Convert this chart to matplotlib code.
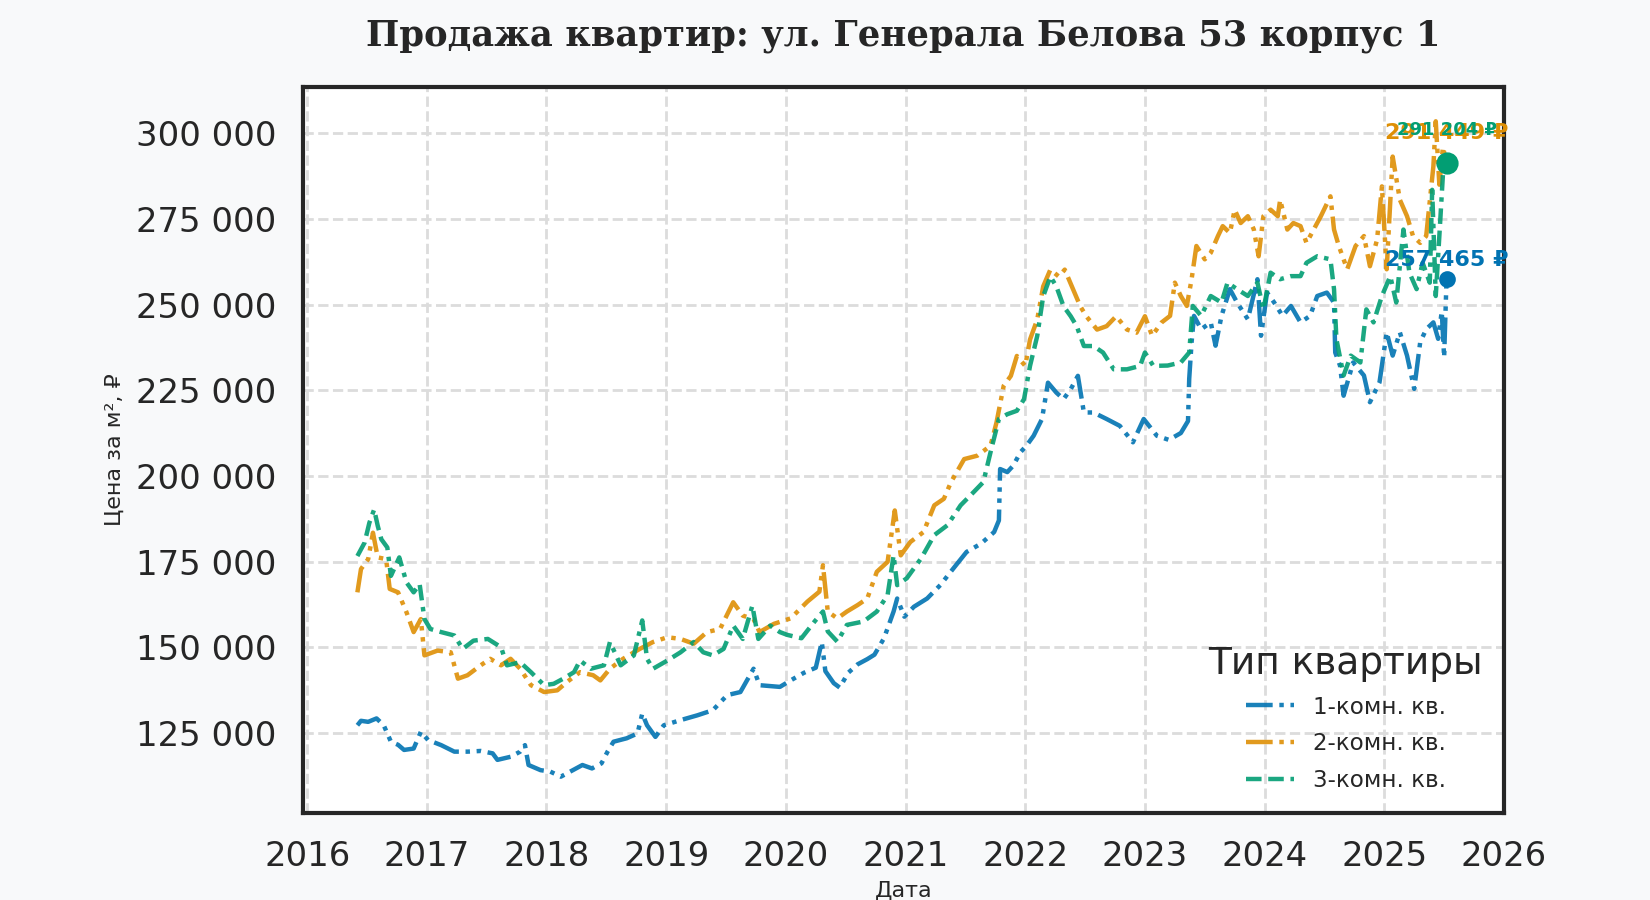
import matplotlib
matplotlib.use("Agg")
import matplotlib.pyplot as plt
from matplotlib.ticker import FuncFormatter

# --- data (decimal year, price per m2 in RUB) ---
one_room_t = [
    2016.42, 2016.45, 2016.51, 2016.58, 2016.64, 2016.70, 2016.76, 2016.81, 2016.89, 2016.95,
    2017.01, 2017.12, 2017.23, 2017.34, 2017.45, 2017.55, 2017.59, 2017.70, 2017.78, 2017.82,
    2017.85, 2017.95, 2018.03, 2018.12, 2018.20, 2018.30, 2018.38, 2018.46, 2018.51, 2018.56,
    2018.67, 2018.76, 2018.80, 2018.84, 2018.91, 2018.98, 2019.12, 2019.26, 2019.39, 2019.51,
    2019.62, 2019.73, 2019.78, 2019.95, 2020.05, 2020.15, 2020.25, 2020.30, 2020.33, 2020.40,
    2020.45, 2020.52, 2020.60, 2020.68, 2020.74, 2020.82, 2020.90, 2020.93, 2020.99, 2021.07,
    2021.18, 2021.29, 2021.40, 2021.51, 2021.63, 2021.74, 2021.78, 2021.79, 2021.85, 2021.90,
    2021.96, 2022.01, 2022.07, 2022.14, 2022.19, 2022.26, 2022.32, 2022.38, 2022.44, 2022.49,
    2022.57, 2022.68, 2022.79, 2022.90, 2022.99, 2023.10, 2023.20, 2023.30, 2023.36, 2023.37,
    2023.39, 2023.41, 2023.47, 2023.55, 2023.59, 2023.64, 2023.71, 2023.77, 2023.86, 2023.94,
    2023.97, 2024.02, 2024.08, 2024.15, 2024.22, 2024.30, 2024.38, 2024.44, 2024.52, 2024.58,
    2024.59, 2024.63, 2024.66, 2024.74, 2024.83, 2024.88, 2024.96, 2025.02, 2025.07, 2025.13,
    2025.19, 2025.25, 2025.30, 2025.35, 2025.41, 2025.45, 2025.48, 2025.50, 2025.52,
]
one_room_v = [
    127200, 128500, 128200, 129200, 127200, 122400, 121500, 120000, 120400, 125300,
    122900, 121400, 119500, 119500, 119700, 119000, 117100, 118000, 119500, 121400,
    115600, 114100, 113700, 112200, 113700, 115600, 114600, 116100, 119500, 122400,
    123400, 124800, 130600, 127200, 123800, 127200, 128700, 130100, 131600, 136000,
    136900, 143700, 138900, 138400, 140500, 142500, 144000, 151500, 143000, 139500,
    138200, 142500, 145000, 146500, 147800, 152600, 160400, 164200, 158900, 161800,
    164200, 168100, 173000, 177800, 180200, 183600, 187000, 202000, 201100, 203000,
    206900, 208800, 211700, 216600, 227200, 224300, 222400, 225300, 229200, 218500,
    218500, 216600, 214600, 209800, 216600, 211700, 210500, 212500, 216000, 228300,
    239000, 246700, 242800, 244800, 238000, 246700, 254500, 250600, 245700, 257400,
    240900, 253500, 250600, 246700, 249600, 244800, 246700, 252500, 253500, 250600,
    236000, 232200, 223400, 233100, 229300, 221500, 227300, 241900, 235100, 241900,
    235100, 225400, 239000, 242800, 244800, 240000, 248000, 234600, 257465,
]

two_room_t = [
    2016.42, 2016.45, 2016.51, 2016.55, 2016.59, 2016.66, 2016.69, 2016.76, 2016.83, 2016.89,
    2016.95, 2016.98, 2017.09, 2017.20, 2017.26, 2017.34, 2017.45, 2017.53, 2017.62, 2017.70,
    2017.78, 2017.87, 2017.98, 2018.09, 2018.17, 2018.28, 2018.39, 2018.45, 2018.53, 2018.64,
    2018.73, 2018.78, 2018.89, 2019.01, 2019.12, 2019.23, 2019.34, 2019.45, 2019.56, 2019.64,
    2019.73, 2019.78, 2019.90, 2020.04, 2020.18, 2020.28, 2020.31, 2020.35, 2020.43, 2020.51,
    2020.60, 2020.68, 2020.76, 2020.85, 2020.91, 2020.96, 2021.04, 2021.15, 2021.24, 2021.32,
    2021.38, 2021.49, 2021.60, 2021.71, 2021.76, 2021.82, 2021.88, 2021.93, 2022.00, 2022.04,
    2022.10, 2022.15, 2022.21, 2022.28, 2022.33, 2022.40, 2022.46, 2022.51, 2022.60, 2022.68,
    2022.76, 2022.85, 2022.93, 2023.00, 2023.06, 2023.14, 2023.21, 2023.25, 2023.30, 2023.35,
    2023.39, 2023.43, 2023.50, 2023.55, 2023.61, 2023.65, 2023.71, 2023.75, 2023.80, 2023.86,
    2023.91, 2023.95, 2023.99, 2024.05, 2024.11, 2024.13, 2024.19, 2024.24, 2024.30, 2024.35,
    2024.41, 2024.47, 2024.55, 2024.58, 2024.62, 2024.69, 2024.76, 2024.83, 2024.88, 2024.94,
    2024.98, 2025.02, 2025.07, 2025.13, 2025.19, 2025.24, 2025.30, 2025.35, 2025.41, 2025.43,
    2025.46, 2025.49, 2025.52,
]
two_room_v = [
    166000, 172800, 175700, 183400, 176200, 175700, 167000, 166000, 160200, 154400,
    158200, 147600, 149000, 148500, 140800, 141800, 144700, 146600, 144700, 146600,
    143700, 138900, 136900, 137400, 139800, 142700, 141800, 140300, 143700, 146600,
    148500, 149500, 151500, 152900, 152400, 151000, 154400, 155300, 163100, 159200,
    158200, 154400, 156800, 158400, 163300, 166200, 173900, 160400, 158400, 160400,
    162300, 164200, 172000, 174900, 189900, 176800, 180700, 183600, 191400, 193300,
    198200, 204900, 205900, 208800, 215600, 226300, 229200, 235000, 232100, 239800,
    245600, 255300, 260200, 258200, 260200, 254400, 249500, 246600, 242700, 243700,
    246600, 242700, 241800, 246600, 240900, 244800, 246700, 256400, 252500, 249600,
    257400, 267100, 263200, 265100, 270000, 272900, 270900, 277700, 273800, 275800,
    271900, 264100, 275800, 277700, 275800, 280600, 271900, 273800, 272900, 268000,
    271900, 275800, 281600, 271900, 267100, 260300, 267100, 270000, 261200, 269000,
    284500, 260300, 293200, 280600, 275800, 270000, 268000, 270000, 290300, 303500,
    285000, 296000, 291449,
]

three_room_t = [
    2016.42, 2016.48, 2016.52, 2016.56, 2016.59, 2016.62, 2016.67, 2016.70, 2016.77, 2016.83,
    2016.89, 2016.94, 2016.98, 2017.03, 2017.12, 2017.23, 2017.30, 2017.39, 2017.51, 2017.62,
    2017.67, 2017.78, 2017.87, 2017.98, 2018.06, 2018.14, 2018.23, 2018.28, 2018.37, 2018.48,
    2018.53, 2018.62, 2018.73, 2018.80, 2018.84, 2018.89, 2019.01, 2019.12, 2019.23, 2019.31,
    2019.39, 2019.48, 2019.56, 2019.64, 2019.72, 2019.77, 2019.87, 2019.95, 2020.01, 2020.13,
    2020.24, 2020.31, 2020.35, 2020.43, 2020.51, 2020.65, 2020.76, 2020.85, 2020.90, 2020.93,
    2021.01, 2021.13, 2021.24, 2021.35, 2021.46, 2021.57, 2021.65, 2021.71, 2021.78, 2021.85,
    2021.93, 2021.99, 2022.04, 2022.10, 2022.15, 2022.21, 2022.26, 2022.32, 2022.38, 2022.43,
    2022.49, 2022.57, 2022.65, 2022.74, 2022.85, 2022.96, 2023.00, 2023.07, 2023.19, 2023.30,
    2023.37, 2023.40, 2023.47, 2023.55, 2023.64, 2023.69, 2023.77, 2023.86, 2023.94, 2023.99,
    2024.05, 2024.13, 2024.22, 2024.30, 2024.35, 2024.44, 2024.55, 2024.58, 2024.60, 2024.66,
    2024.72, 2024.80, 2024.85, 2024.91, 2024.98, 2025.05, 2025.10, 2025.16, 2025.21, 2025.27,
    2025.32, 2025.38, 2025.40, 2025.43, 2025.46, 2025.49, 2025.52,
]
three_room_v = [
    176600, 180500, 186300, 190200, 185400, 181500, 179100, 170800, 176200, 168900,
    166000, 168400, 158200, 155300, 154400, 153400, 149500, 151900, 152400, 150000,
    144700, 145600, 142700, 138900, 139300, 140800, 142700, 146100, 143700, 144700,
    151500, 144700, 147600, 157800, 146600, 143700, 146100, 148500, 151500, 148500,
    147600, 149500, 156300, 152400, 162100, 152400, 156300, 154400, 153600, 152600,
    157500, 160400, 154600, 151600, 156500, 157500, 160400, 165200, 176800, 168100,
    170100, 175900, 182700, 185600, 191400, 195300, 198200, 206900, 216600, 218000,
    219000, 222400, 232100, 240800, 252400, 258200, 255300, 249500, 246600, 243700,
    237900, 237900, 236000, 231100, 231100, 232100, 236000, 232100, 232200, 233100,
    236000, 249600, 246700, 252500, 250600, 256400, 254500, 252500, 256400, 248600,
    259300, 257400, 258300, 258300, 262200, 264100, 263200, 254500, 239900, 229300,
    235100, 233100, 248600, 244800, 252500, 258300, 250600, 271900, 259300, 254500,
    262200, 256400, 283500, 252500, 270000, 288000, 291204,
]

series_labels = ["1-комн. кв.", "2-комн. кв.", "3-комн. кв."]
year_ticks = list(range(2016, 2027))
price_ticks = [125000, 150000, 175000, 200000, 225000, 250000, 275000, 300000]

COLORS = ["#0173b2", "#de8f05", "#029e73"]
DASHES = [
    (0, (6, 1.5, 1, 1.5, 1, 1.5)),
    (0, (6, 1.5, 1, 1.5, 1, 1.5)),
    (0, (3.5, 1.5, 3.5, 1.5, 1, 1.5)),
]
INK = "#262626"


def rub(v, _pos=None):
    return f"{int(round(v)):,}".replace(",", " ")


def main() -> None:
    plt.rcParams["font.family"] = ["DejaVu Sans"]
    fig = plt.figure(figsize=(8.25, 4.5), dpi=200, facecolor="#f8f9fa")
    ax = fig.add_axes([0.1836, 0.0967, 0.7279, 0.8066])
    ax.set_facecolor("white")

    data = [
        (one_room_t, one_room_v),
        (two_room_t, two_room_v),
        (three_room_t, three_room_v),
    ]
    for (t, v), lab, col, ls in zip(data, series_labels, COLORS, DASHES):
        ax.plot(t, v, color=col, lw=1.6, ls=ls, alpha=0.9, label=lab, zorder=3)

    # last-value markers and labels
    ax.plot(one_room_t[-1], one_room_v[-1], "o", color=COLORS[0], ms=5, zorder=5)
    ax.plot(two_room_t[-1], two_room_v[-1], "o", color=COLORS[1], ms=6, zorder=5)
    ax.plot(three_room_t[-1], three_room_v[-1], "o", color=COLORS[2], ms=7, zorder=6)
    ax.annotate(f"{rub(one_room_v[-1])} ₽", (one_room_t[-1], one_room_v[-1]),
                xytext=(0, 7), textcoords="offset points", ha="center", va="center",
                color=COLORS[0], fontsize=8, fontweight="bold", zorder=7)
    ax.annotate(f"{rub(two_room_v[-1])} ₽", (two_room_t[-1], two_room_v[-1]),
                xytext=(0, 10.5), textcoords="offset points", ha="center", va="center",
                color=COLORS[1], fontsize=8, fontweight="bold", zorder=7)
    ax.annotate(f"{rub(three_room_v[-1])} ₽", (three_room_t[-1], three_room_v[-1]),
                xytext=(0, 12), textcoords="offset points", ha="center", va="center",
                color=COLORS[2], fontsize=6.5, fontweight="bold", zorder=8)

    ax.set_xlim(2015.965, 2025.975)
    ax.set_ylim(101600, 313500)
    ax.set_xticks(year_ticks)
    ax.set_yticks(price_ticks)
    ax.yaxis.set_major_formatter(FuncFormatter(rub))
    ax.tick_params(axis="both", length=0, labelsize=12.2, colors=INK)
    ax.tick_params(axis="y", pad=9.5)
    ax.tick_params(axis="x", pad=9.6)

    ax.grid(True, color="#dcdcdc", ls="--", lw=1.0, zorder=0)
    for s in ax.spines.values():
        s.set_color(INK)
        s.set_linewidth(1.5)

    ax.set_xlabel("Дата", fontsize=8, color=INK, labelpad=3)
    ax.set_ylabel("Цена за м², ₽", fontsize=8, color=INK)
    ax.set_title("Продажа квартир: ул. Генерала Белова 53 корпус 1",
                 family="DejaVu Serif", fontweight="bold", fontsize=12.75,
                 color=INK, pad=15)

    leg = ax.legend(title="Тип квартиры", loc="lower right", frameon=False,
                    fontsize=8.3, title_fontsize=13.5, handlelength=2.1,
                    labelspacing=0.6)
    leg.get_title().set_color(INK)
    for txt in leg.get_texts():
        txt.set_color(INK)

    fig.savefig("out.png", dpi=200, facecolor=fig.get_facecolor())
    plt.close(fig)


if __name__ == "__main__":
    main()
